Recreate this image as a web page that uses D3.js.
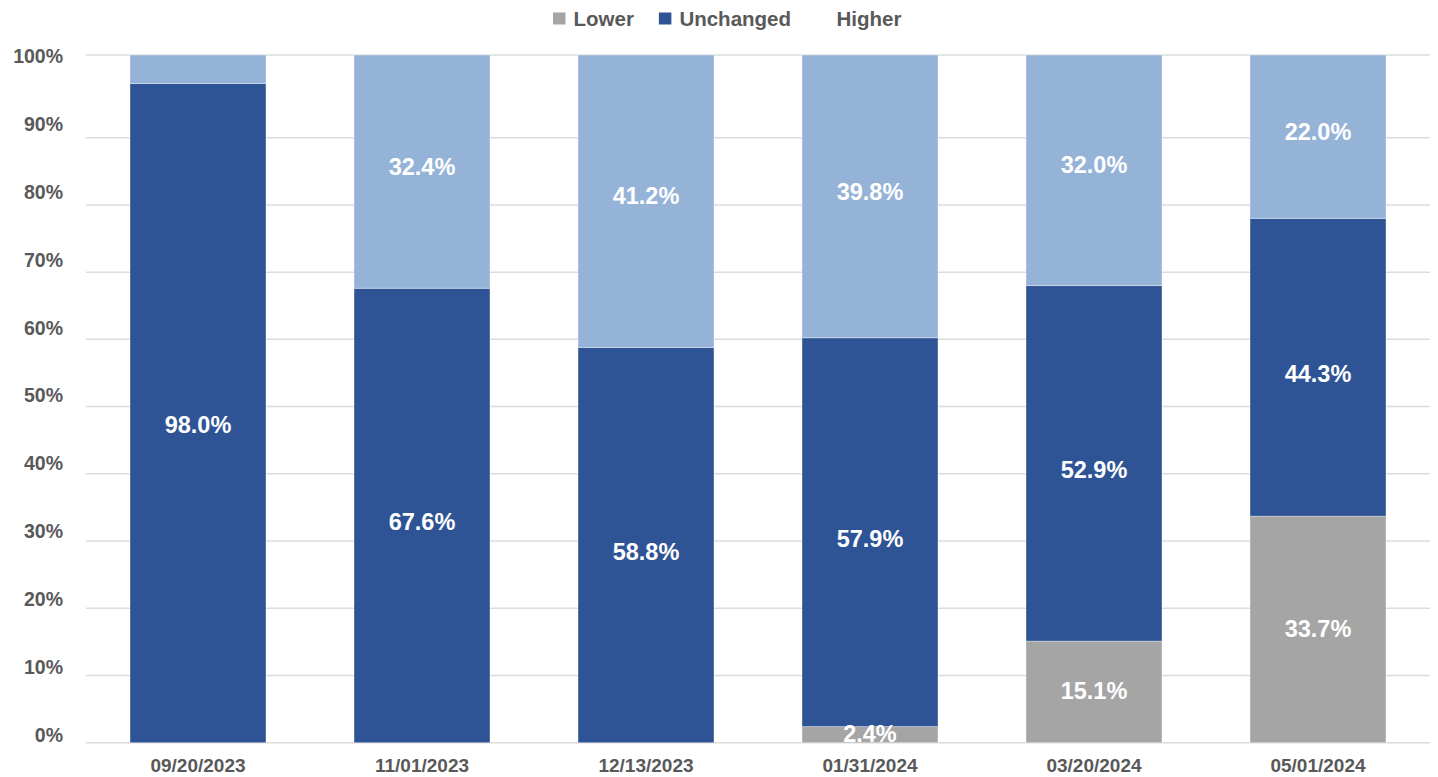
<!DOCTYPE html>
<html>
<head>
<meta charset="utf-8">
<script src="https://cdn.jsdelivr.net/npm/d3@7"></script>
<style>
  html, body { margin: 0; padding: 0; background: #ffffff; }
  svg { display: block; font-family: "Liberation Sans", Arial, Helvetica, sans-serif; }
</style>
</head>
<body>
<svg id="chart" width="1438" height="777"></svg>
<script>
// ---- data ----
const categories = ["09/20/2023", "11/01/2023", "12/13/2023", "01/31/2024", "03/20/2024", "05/01/2024"];
const seriesNames = ["Lower", "Unchanged", "Higher"];
const lowerValues = [0, 0, 0, 2.4, 15.1, 33.7];
const unchangedValues = [98.0, 67.6, 58.8, 57.9, 52.9, 44.3];
const higherValues = [3.5, 32.4, 41.2, 39.8, 32.0, 22.0];
const hiddenLabels = ["Higher|09/20/2023"];
const yTickValues = [0, 10, 20, 30, 40, 50, 60, 70, 80, 90, 100];
const yTickLabels = ["0%", "10%", "20%", "30%", "40%", "50%", "60%", "70%", "80%", "90%", "100%"];

// ---- styles ----
const colors = { "Lower": "#a5a5a5", "Unchanged": "#2e5496", "Higher": "#95b3d7" };
const legendColors = { "Lower": "#a5a5a5", "Unchanged": "#2e5496", "Higher": "#ffffff" };
const labelShift = { "Lower": -1, "Unchanged": 6, "Higher": -13 };
const textColor = "#595959";

const svg = d3.select("#chart");

const rows = categories.map((c, i) => ({
  cat: c,
  Lower: lowerValues[i],
  Unchanged: unchangedValues[i],
  Higher: higherValues[i]
}));

const stacked = d3.stack().keys(seriesNames).offset(d3.stackOffsetExpand)(rows);

const x = d3.scaleBand()
  .domain(categories)
  .range([86, 1430])
  .paddingInner(0.393)
  .paddingOuter(0.1965);

// plot scale (matches the reference's gridline placement)
const y = d3.scaleLinear().domain([0, 0.9, 1]).range([742.7, 137.7, 55]);
// tick-label placement scale
const yLabel = d3.scaleLinear().domain([0, 100]).range([735, 56.3]);

// gridlines
svg.append("g").selectAll("line")
  .data(yTickValues)
  .join("line")
  .attr("x1", 86).attr("x2", 1430)
  .attr("y1", d => y(d / 100)).attr("y2", d => y(d / 100))
  .attr("stroke", "#dcdcdc")
  .attr("stroke-width", 1.5);

// y tick labels
svg.append("g").selectAll("text")
  .data(yTickValues)
  .join("text")
  .attr("x", 63)
  .attr("y", d => yLabel(d))
  .attr("dy", "0.35em")
  .attr("text-anchor", "end")
  .attr("font-size", 19.5)
  .attr("font-weight", "bold")
  .attr("fill", textColor)
  .text((d, i) => yTickLabels[i]);

// bars
const layers = svg.append("g").selectAll("g")
  .data(stacked)
  .join("g")
  .attr("fill", d => colors[d.key]);

layers.selectAll("rect")
  .data(d => d.map(p => ({ key: d.key, p })))
  .join("rect")
  .attr("x", d => x(d.p.data.cat))
  .attr("width", x.bandwidth())
  .attr("y", d => y(d.p[1]))
  .attr("height", d => Math.max(0, y(d.p[0]) - y(d.p[1])))
  .attr("stroke", "rgba(255,255,255,0.35)")
  .attr("stroke-width", 1);

// value labels
const labelData = [];
stacked.forEach(layer => {
  layer.forEach(p => {
    const v = p.data[layer.key];
    if (v > 0 && !hiddenLabels.includes(layer.key + "|" + p.data.cat)) {
      labelData.push({ key: layer.key, cat: p.data.cat, v, mid: (p[0] + p[1]) / 2 });
    }
  });
});

svg.append("g").selectAll("text")
  .data(labelData)
  .join("text")
  .attr("x", d => x(d.cat) + x.bandwidth() / 2)
  .attr("y", d => y(d.mid) + labelShift[d.key])
  .attr("dy", "0.36em")
  .attr("text-anchor", "middle")
  .attr("font-size", 23.5)
  .attr("font-weight", "bold")
  .attr("fill", "#ffffff")
  .text(d => d.v.toFixed(1) + "%");

// x axis labels
svg.append("g").selectAll("text")
  .data(categories)
  .join("text")
  .attr("x", d => x(d) + x.bandwidth() / 2)
  .attr("y", 772)
  .attr("text-anchor", "middle")
  .attr("font-size", 19)
  .attr("font-weight", "bold")
  .attr("fill", textColor)
  .text(d => d);

// legend
const legend = svg.append("g");
let lx = 553;
seriesNames.forEach(name => {
  legend.append("rect")
    .attr("x", lx).attr("y", 12.5)
    .attr("width", 12.5).attr("height", 12)
    .attr("fill", legendColors[name]);
  const t = legend.append("text")
    .attr("x", lx + 20.5)
    .attr("y", 25.5)
    .attr("font-size", 20.5)
    .attr("font-weight", "bold")
    .attr("fill", textColor)
    .text(name);
  lx = lx + 20.5 + t.node().getComputedTextLength() + 25;
});
</script>
</body>
</html>
